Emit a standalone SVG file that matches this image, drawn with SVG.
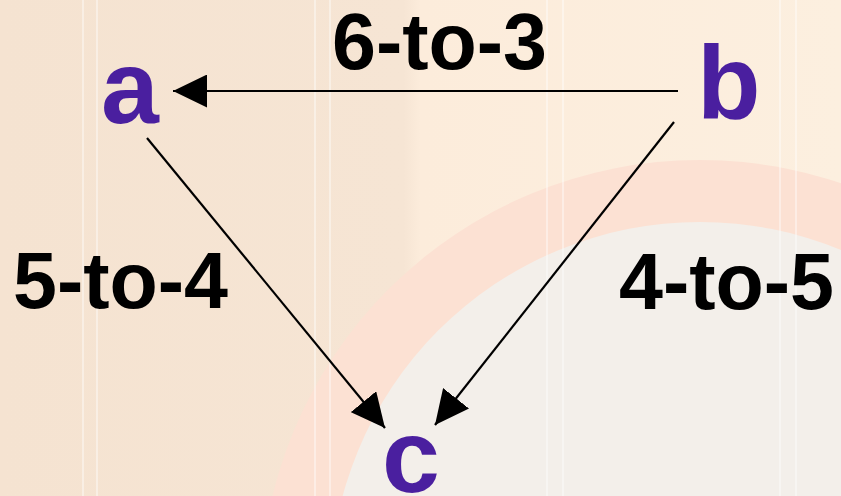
<svg xmlns="http://www.w3.org/2000/svg" width="841" height="496" viewBox="0 0 841 496">
  <style>
    .node { font-family: "Liberation Sans", Arial, sans-serif; font-weight: bold; font-size: 104px; fill: #4a1f9f; }
    .label { font-family: "Liberation Sans", Arial, sans-serif; font-weight: bold; font-size: 79px; fill: #000000; }
    .edge { stroke: #000000; stroke-width: 2.2; fill: none; }
    .stripe { stroke: #ffffff; stroke-width: 1.5; opacity: 0.55; }
  </style>
  <defs>
    <marker id="arrow" viewBox="0 0 34 33" refX="34" refY="16.5" markerWidth="34" markerHeight="33" markerUnits="userSpaceOnUse" orient="auto">
      <path d="M0,0 L34,16.5 L0,33 Z" fill="#000000"/>
    </marker>
    <linearGradient id="bg" x1="0" y1="0" x2="1" y2="0">
      <stop offset="0" stop-color="#f5e3d1"/>
      <stop offset="0.48" stop-color="#f6e5d4"/>
      <stop offset="0.5" stop-color="#fcecdb"/>
      <stop offset="1" stop-color="#fcefdf"/>
    </linearGradient>
  </defs>
  <g id="background">
    <rect x="0" y="0" width="841" height="496" fill="url(#bg)"/>
    <circle cx="700" cy="600" r="440" fill="#fce1d3"/>
    <circle cx="700" cy="592" r="370" fill="#f3efea"/>
    <line class="stripe" x1="83" y1="0" x2="83" y2="496"/>
    <line class="stripe" x1="97" y1="0" x2="97" y2="496"/>
    <line class="stripe" x1="315" y1="0" x2="315" y2="496"/>
    <line class="stripe" x1="330" y1="0" x2="330" y2="496"/>
    <line class="stripe" x1="547" y1="0" x2="547" y2="496"/>
    <line class="stripe" x1="563" y1="0" x2="563" y2="496"/>
    <line class="stripe" x1="780" y1="0" x2="780" y2="496"/>
    <line class="stripe" x1="796" y1="0" x2="796" y2="496"/>
  </g>
  <g id="connectors">
    <line class="edge" x1="678" y1="91" x2="173" y2="91" marker-end="url(#arrow)"/>
    <line class="edge" x1="147" y1="138" x2="385" y2="428" marker-end="url(#arrow)"/>
    <line class="edge" x1="674" y1="122" x2="435" y2="425" marker-end="url(#arrow)"/>
  </g>
  <g id="node-a"><text class="node" x="101" y="123">a</text></g>
  <g id="node-b"><text class="node" x="697" y="118">b</text></g>
  <g id="node-c"><text class="node" x="382" y="492">c</text></g>
  <g id="label-ba"><text class="label" x="332" y="69">6-to-3</text></g>
  <g id="label-ac"><text class="label" x="13" y="308">5-to-4</text></g>
  <g id="label-bc"><text class="label" x="619" y="309">4-to-5</text></g>
</svg>
